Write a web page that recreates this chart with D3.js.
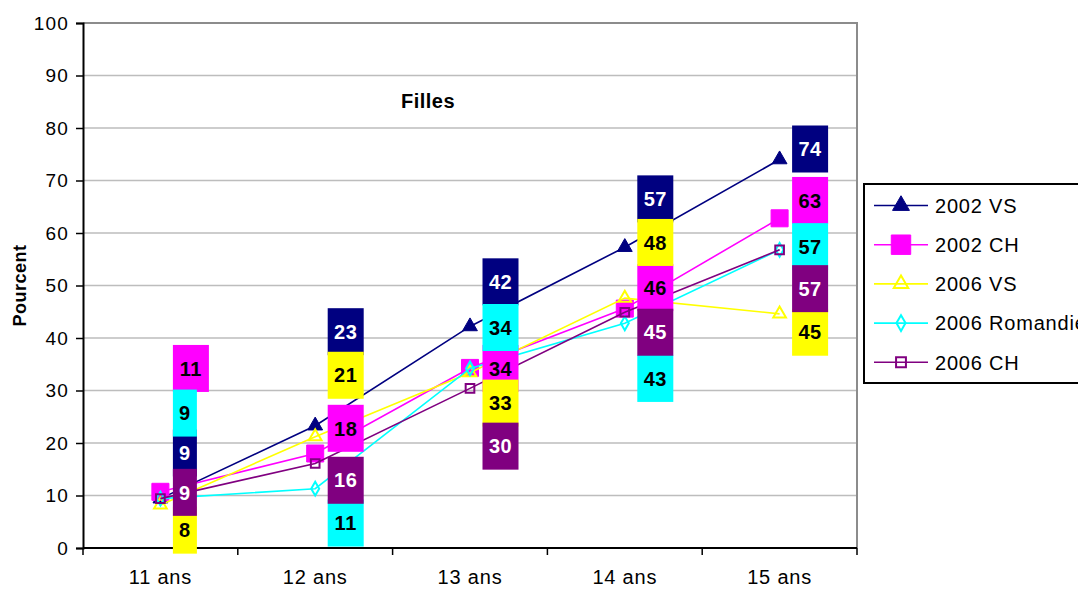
<!DOCTYPE html>
<html>
<head>
<meta charset="utf-8">
<script src="https://cdn.jsdelivr.net/npm/d3@7"></script>
<style>
  body { margin: 0; background: #fff; }
  text { font-family: Arial, "Liberation Sans", sans-serif; }
</style>
</head>
<body>
<div id="chart"></div>
<script>
'use strict';

// categories (age groups)
const ages = ['11 ans', '12 ans', '13 ans', '14 ans', '15 ans']
const series_names = ['2002 VS', '2002 CH', '2006 VS', '2006 Romandie', '2006 CH']

// percentages per series
const vs_2002 = [9.4, 23.3, 42.2, 57.3, 74.0]
const ch_2002 = [10.7, 18.0, 34.3, 45.6, 62.8]
const vs_2006 = [8.2, 21.2, 33.4, 47.6, 44.6]
const rom_2006 = [9.4, 11.3, 34.2, 42.8, 56.8]
const ch_2006 = [9.4, 16.1, 30.4, 44.9, 56.8]

// where each data label was moved to (in percent units)
const vs_2002_lbl = [18.1, 41.2, 50.7, 66.5, 76.0]
const ch_2002_lbl = [34.2, 22.8, 34.2, 49.6, 66.2]
const vs_2006_lbl = [3.4, 32.9, 27.6, 58.2, 41.1]
const rom_2006_lbl = [25.7, 4.75, 42.0, 32.3, 57.4]
const ch_2006_lbl = [10.6, 12.9, 19.4, 41.1, 49.4]

const y_ticks = [0, 10, 20, 30, 40, 50, 60, 70, 80, 90, 100]

const colors = ['#000080', '#ff00ff', '#ffff00', '#00ffff', '#800080']
const label_text_colors = ['#fff', '#000', '#000', '#000', '#fff']

const series = [
  {name: series_names[0], values: vs_2002, lbl: vs_2002_lbl, symbol: d3.symbolTriangle, size: 95, filled: true},
  {name: series_names[1], values: ch_2002, lbl: ch_2002_lbl, symbol: d3.symbolSquare, size: 290, filled: true},
  {name: series_names[2], values: vs_2006, lbl: vs_2006_lbl, symbol: d3.symbolTriangle, size: 70, filled: false},
  {name: series_names[3], values: rom_2006, lbl: rom_2006_lbl, symbol: d3.symbolDiamond, size: 55, filled: false},
  {name: series_names[4], values: ch_2006, lbl: ch_2006_lbl, symbol: d3.symbolSquare, size: 75, filled: false},
]
series.forEach((s, i) => { s.color = colors[i]; s.text_color = label_text_colors[i] })

const dimensions = {
  width: 1078,
  height: 590,
  left: 83,
  right: 857,
  top: 23,
  bottom: 548
}

const svg = d3.select('#chart')
  .append('svg')
  .attr('width', dimensions.width)
  .attr('height', dimensions.height)

const xScale = d3.scaleBand()
  .domain(ages)
  .range([dimensions.left, dimensions.right])
  .paddingInner(0)
  .paddingOuter(0)
const xCenter = d => xScale(d) + xScale.bandwidth() / 2

const yScale = d3.scaleLinear()
  .domain([0, 100])
  .range([dimensions.bottom, dimensions.top])

// gridlines
svg.append('g')
  .selectAll('line')
  .data(y_ticks.filter(t => t > 0))
  .join('line')
  .attr('x1', dimensions.left)
  .attr('x2', dimensions.right)
  .attr('y1', d => yScale(d))
  .attr('y2', d => yScale(d))
  .attr('stroke', '#bdbdbd')
  .attr('stroke-width', 1.5)

// plot area border (top + right)
svg.append('path')
  .attr('d', `M${dimensions.left},${dimensions.top}H${dimensions.right}V${dimensions.bottom}`)
  .attr('fill', 'none')
  .attr('stroke', '#8c8c8c')
  .attr('stroke-width', 2)

// y axis
const yAxis = d3.axisLeft(yScale).tickValues(y_ticks).tickSize(7).tickPadding(7)
const yAxisGroup = svg.append('g')
  .attr('transform', `translate(${dimensions.left},0)`)
  .call(yAxis)
yAxisGroup.select('.domain').attr('stroke', '#000').attr('stroke-width', 2)
yAxisGroup.selectAll('.tick line').attr('stroke', '#000').attr('stroke-width', 1.5)
yAxisGroup.selectAll('.tick text')
  .style('font-size', '19px')
  .style('letter-spacing', '1.2px')
  .attr('fill', '#000')

// x axis
const xAxis = d3.axisBottom(xScale).tickSize(0).tickPadding(22)
const xAxisGroup = svg.append('g')
  .attr('transform', `translate(0,${dimensions.bottom})`)
  .call(xAxis)
xAxisGroup.select('.domain').remove()
xAxisGroup.selectAll('.tick text')
  .style('font-size', '20px')
  .style('letter-spacing', '0.8px')
  .attr('fill', '#000')
svg.append('line')
  .attr('x1', dimensions.left).attr('x2', dimensions.right)
  .attr('y1', dimensions.bottom).attr('y2', dimensions.bottom)
  .attr('stroke', '#000').attr('stroke-width', 2)
// category boundary ticks
svg.append('g')
  .selectAll('line')
  .data(d3.range(ages.length + 1))
  .join('line')
  .attr('x1', i => dimensions.left + i * xScale.bandwidth())
  .attr('x2', i => dimensions.left + i * xScale.bandwidth())
  .attr('y1', dimensions.bottom)
  .attr('y2', dimensions.bottom + 7)
  .attr('stroke', '#000')
  .attr('stroke-width', 1.5)

// y title
svg.append('text')
  .attr('transform', `translate(26, ${yScale(50)}) rotate(-90)`)
  .attr('text-anchor', 'middle')
  .style('font-size', '18px')
  .style('font-weight', 'bold')
  .style('letter-spacing', '0.5px')
  .text('Pourcent')

// chart title
svg.append('text')
  .attr('x', 428)
  .attr('y', 108)
  .attr('text-anchor', 'middle')
  .style('font-size', '20px')
  .style('font-weight', 'bold')
  .style('letter-spacing', '0.5px')
  .text('Filles')

// lines + markers
const line = d3.line()
  .x((d, i) => xCenter(ages[i]))
  .y(d => yScale(d))

series.forEach(s => {
  const g = svg.append('g')
  g.append('path')
    .attr('d', line(s.values))
    .attr('fill', 'none')
    .attr('stroke', s.color)
    .attr('stroke-width', 1.6)
  g.selectAll('path.marker')
    .data(s.values)
    .join('path')
    .attr('class', 'marker')
    .attr('transform', (d, i) => `translate(${xCenter(ages[i])},${yScale(d)})`)
    .attr('d', d3.symbol(s.symbol, s.size))
    .attr('fill', s.filled ? s.color : 'none')
    .attr('stroke', s.color)
    .attr('stroke-width', s.filled ? 1 : 2)
})

// data labels
series.forEach(s => {
  const g = svg.append('g')
  const lbl = g.selectAll('g')
    .data(s.values)
    .join('g')
    .attr('transform', (d, i) => `translate(${xCenter(ages[i]) + 12.5},${yScale(s.lbl[i])})`)
  const boxW = d => 12 + 12 * String(Math.round(d)).length
  lbl.append('rect')
    .attr('x', 0)
    .attr('y', -23.5)
    .attr('width', boxW)
    .attr('height', 47)
    .attr('fill', s.color)
  lbl.append('text')
    .attr('x', d => boxW(d) / 2)
    .attr('y', 0)
    .attr('dy', '0.36em')
    .attr('text-anchor', 'middle')
    .attr('fill', s.text_color)
    .style('font-size', '20px')
    .style('font-weight', 'bold')
    .style('letter-spacing', '0.5px')
    .text(d => Math.round(d))
})

// legend
const legend = svg.append('g')
legend.append('rect')
  .attr('x', 864)
  .attr('y', 184)
  .attr('width', 230)
  .attr('height', 199)
  .attr('fill', '#fff')
  .attr('stroke', '#000')
  .attr('stroke-width', 2)
const legendItem = legend.selectAll('g')
  .data(series)
  .join('g')
  .attr('transform', (d, i) => `translate(874, ${205.5 + i * 39.2})`)
legendItem.append('line')
  .attr('x1', 0).attr('x2', 54)
  .attr('stroke', d => d.color)
  .attr('stroke-width', 1.6)
legendItem.append('path')
  .attr('transform', 'translate(27,0)')
  .attr('d', d => d3.symbol(d.symbol, d.size * 1.3)())
  .attr('fill', d => d.filled ? d.color : 'none')
  .attr('stroke', d => d.color)
  .attr('stroke-width', d => d.filled ? 1 : 2)
legendItem.append('text')
  .attr('x', 61)
  .attr('dy', '0.36em')
  .style('font-size', '20px')
  .style('letter-spacing', '0.8px')
  .text(d => d.name)
</script>
</body>
</html>
